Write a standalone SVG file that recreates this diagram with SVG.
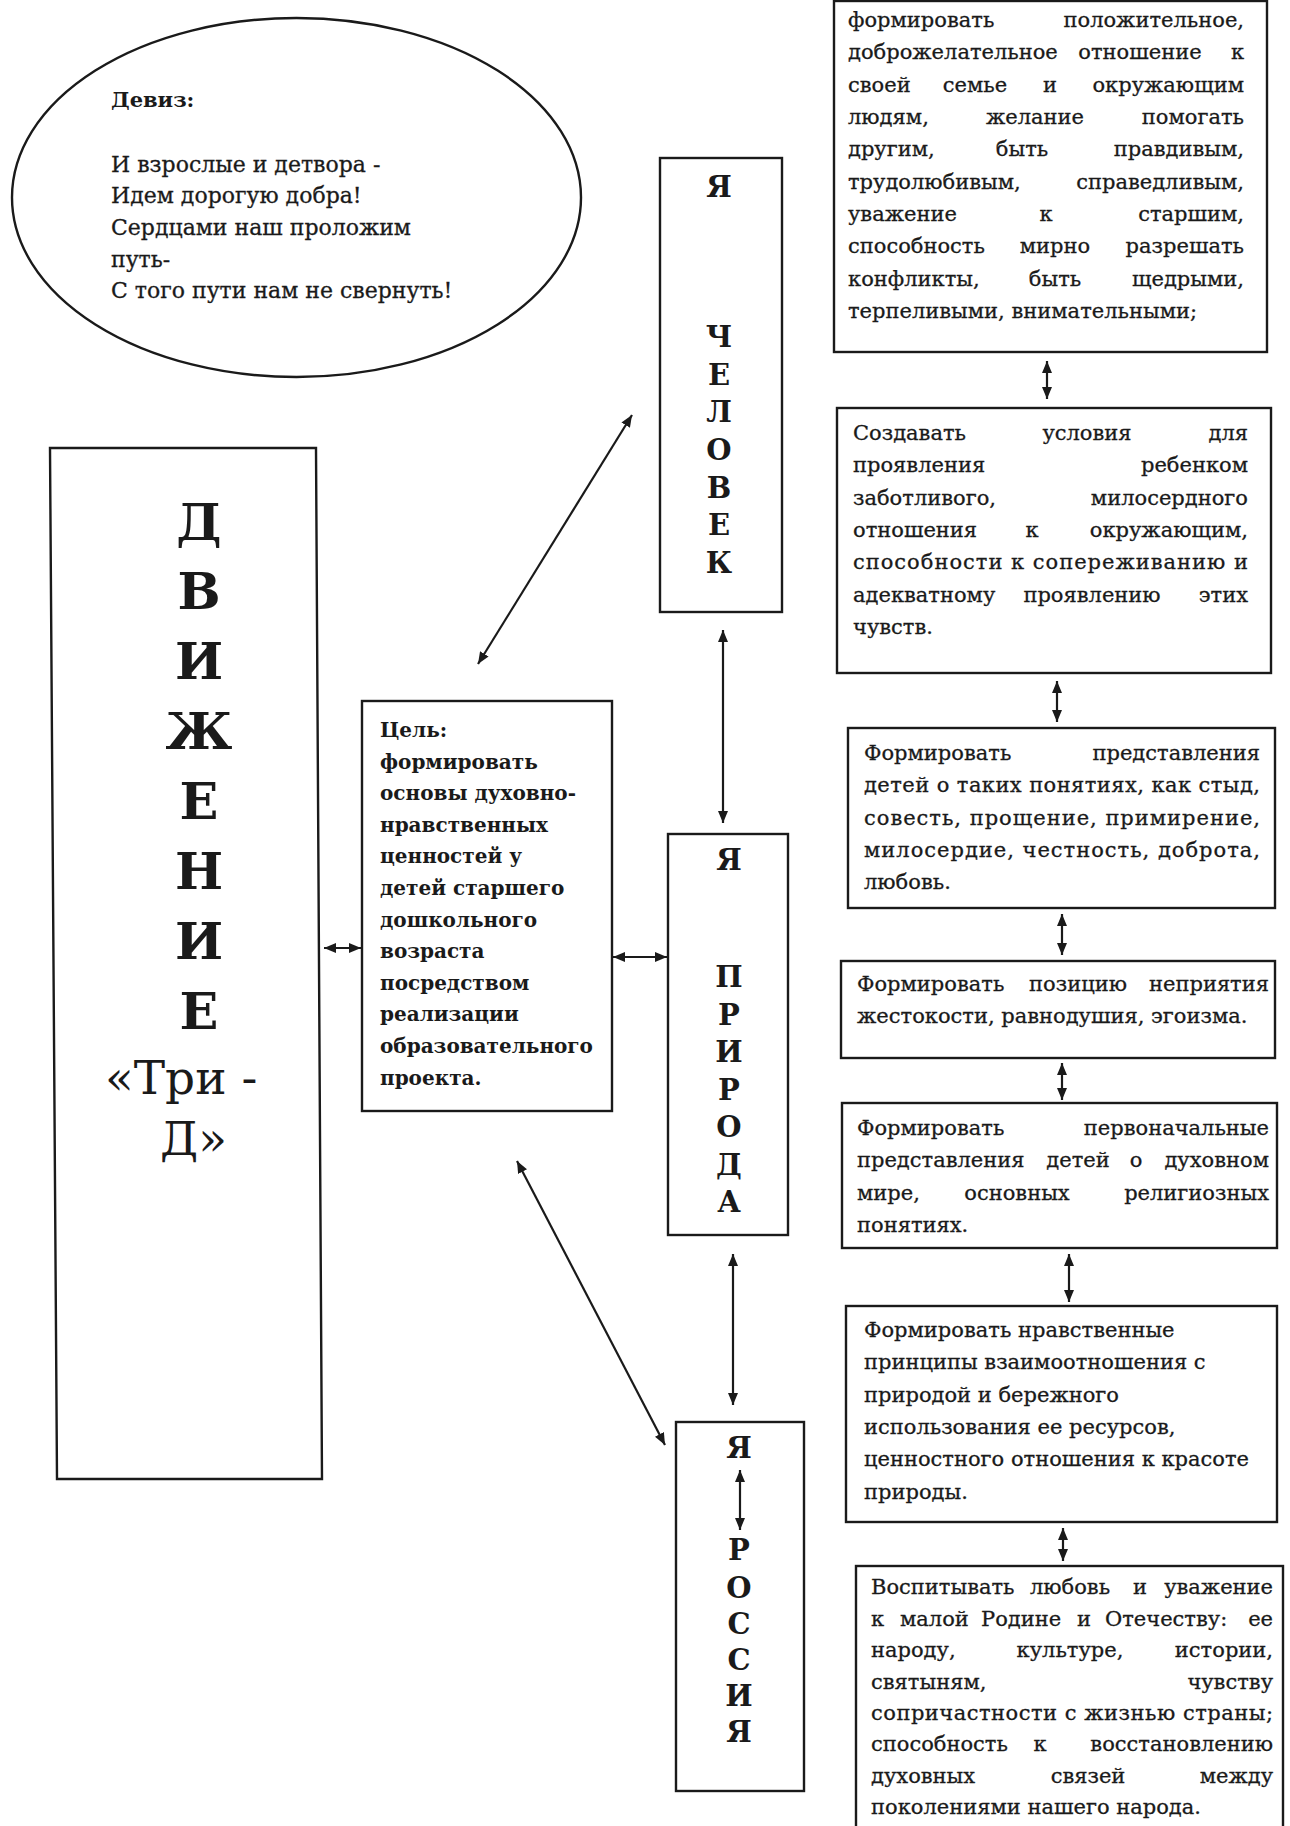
<svg xmlns="http://www.w3.org/2000/svg" width="1290" height="1826" viewBox="0 0 1290 1826">
<defs>
<marker id="ah" markerUnits="userSpaceOnUse" markerWidth="12" markerHeight="10" refX="12" refY="5" orient="auto-start-reverse">
<path d="M0,0 L12,5 L0,10 z" fill="#1a1a1a"/>
</marker>
<style>
.box{fill:none;stroke:#1a1a1a;stroke-width:2.4}
.t{font-family:"DejaVu Serif","Liberation Serif",serif;font-size:21px;fill:#1a1a1a;stroke:#1a1a1a;stroke-width:0.3}
.b{font-weight:bold;stroke-width:0}
.big{font-family:"DejaVu Serif","Liberation Serif",serif;font-size:51px;font-weight:bold;fill:#1a1a1a;text-anchor:middle}
.mid{font-family:"DejaVu Serif","Liberation Serif",serif;font-size:29px;font-weight:bold;fill:#1a1a1a;text-anchor:middle}
.e{text-anchor:end}
.m{text-anchor:middle}
#connectors line{stroke:#1a1a1a;stroke-width:2.2;marker-start:url(#ah);marker-end:url(#ah)}
</style>
</defs>
<rect width="1290" height="1826" fill="#ffffff"/>

<g id="motto">
<ellipse class="box" cx="296.5" cy="197.5" rx="284.5" ry="179.5"/>
<text class="t b" x="111" y="107">Девиз:</text>
<text class="t" style="font-size:22px" x="111" y="172">И взрослые и детвора -</text>
<text class="t" style="font-size:22px" x="111" y="203">Идем дорогую добра!</text>
<text class="t" style="font-size:22px" x="111" y="235">Сердцами наш проложим</text>
<text class="t" style="font-size:22px" x="111" y="267">путь-</text>
<text class="t" style="font-size:22px" x="111" y="298">С того пути нам не свернуть!</text>
</g>

<g id="movement">
<polygon class="box" points="50,448 316,448 322,1479 57,1479"/>
<text class="big" x="199" y="540">Д</text>
<text class="big" x="199" y="609">В</text>
<text class="big" x="199" y="679">И</text>
<text class="big" x="199" y="749">Ж</text>
<text class="big" x="199" y="819">Е</text>
<text class="big" x="199" y="889">Н</text>
<text class="big" x="199" y="959">И</text>
<text class="big" x="199" y="1029">Е</text>
<text class="t" style="font-size:47px;stroke-width:0" x="105" y="1094">«Три -</text>
<text class="t" style="font-size:47px;stroke-width:0" x="160" y="1155">Д»</text>
</g>

<g id="goal">
<rect class="box" x="362" y="701" width="250" height="410"/>
<text class="t b" style="font-size:20px" x="380" y="737">Цель:</text>
<text class="t b" style="font-size:20px" x="380" y="769">формировать</text>
<text class="t b" style="font-size:20px" x="380" y="800">основы духовно-</text>
<text class="t b" style="font-size:20px" x="380" y="832">нравственных</text>
<text class="t b" style="font-size:20px" x="380" y="863">ценностей у</text>
<text class="t b" style="font-size:20px" x="380" y="895">детей старшего</text>
<text class="t b" style="font-size:20px" x="380" y="927">дошкольного</text>
<text class="t b" style="font-size:20px" x="380" y="958">возраста</text>
<text class="t b" style="font-size:20px" x="380" y="990">посредством</text>
<text class="t b" style="font-size:20px" x="380" y="1021">реализации</text>
<text class="t b" style="font-size:20px" x="380" y="1053">образовательного</text>
<text class="t b" style="font-size:20px" x="380" y="1085">проекта.</text>
</g>

<g id="human">
<rect class="box" x="660" y="158" width="122" height="454"/>
<text class="mid" x="719" y="197">Я</text>
<text class="mid" x="719" y="347">Ч</text>
<text class="mid" x="719" y="385">Е</text>
<text class="mid" x="719" y="422">Л</text>
<text class="mid" x="719" y="460">О</text>
<text class="mid" x="719" y="498">В</text>
<text class="mid" x="719" y="535">Е</text>
<text class="mid" x="719" y="573">К</text>
</g>

<g id="nature">
<rect class="box" x="668" y="834" width="120" height="401"/>
<text class="mid" x="729" y="870">Я</text>
<text class="mid" x="729" y="987">П</text>
<text class="mid" x="729" y="1025">Р</text>
<text class="mid" x="729" y="1062">И</text>
<text class="mid" x="729" y="1100">Р</text>
<text class="mid" x="729" y="1137">О</text>
<text class="mid" x="729" y="1175">Д</text>
<text class="mid" x="729" y="1212">А</text>
</g>

<g id="russia">
<rect class="box" x="676" y="1422" width="128" height="369"/>
<text class="mid" x="739" y="1458">Я</text>
<text class="mid" x="739" y="1560">Р</text>
<text class="mid" x="739" y="1598">О</text>
<text class="mid" x="739" y="1634">С</text>
<text class="mid" x="739" y="1670">С</text>
<text class="mid" x="739" y="1706">И</text>
<text class="mid" x="739" y="1742">Я</text>
</g>

<g id="r1">
<rect class="box" x="834" y="1" width="433" height="351"/>
<text class="t" x="848" y="27">формировать</text><text class="t e" x="1244" y="27">положительное,</text>
<text class="t" x="848" y="59">доброжелательное</text><text class="t m" x="1140" y="59">отношение</text><text class="t e" x="1244" y="59">к</text>
<text class="t" x="848" y="92">своей</text><text class="t m" x="975" y="92">семье</text><text class="t m" x="1050" y="92">и</text><text class="t e" x="1244" y="92">окружающим</text>
<text class="t" x="848" y="124">людям,</text><text class="t m" x="1035" y="124">желание</text><text class="t e" x="1244" y="124">помогать</text>
<text class="t" x="848" y="156">другим,</text><text class="t m" x="1022" y="156">быть</text><text class="t e" x="1244" y="156">правдивым,</text>
<text class="t" x="848" y="189">трудолюбивым,</text><text class="t e" x="1244" y="189">справедливым,</text>
<text class="t" x="848" y="221">уважение</text><text class="t m" x="1046" y="221">к</text><text class="t e" x="1244" y="221">старшим,</text>
<text class="t" x="848" y="253">способность</text><text class="t m" x="1055" y="253">мирно</text><text class="t e" x="1244" y="253">разрешать</text>
<text class="t" x="848" y="286">конфликты,</text><text class="t m" x="1055" y="286">быть</text><text class="t e" x="1244" y="286">щедрыми,</text>
<text class="t" x="848" y="318">терпеливыми, внимательными;</text>
</g>

<g id="r2">
<rect class="box" x="837" y="408" width="434" height="265"/>
<text class="t" x="853" y="440">Создавать</text><text class="t m" x="1087" y="440">условия</text><text class="t e" x="1248" y="440">для</text>
<text class="t" x="853" y="472">проявления</text><text class="t e" x="1248" y="472">ребенком</text>
<text class="t" x="853" y="505">заботливого,</text><text class="t e" x="1248" y="505">милосердного</text>
<text class="t" x="853" y="537">отношения</text><text class="t m" x="1032" y="537">к</text><text class="t e" x="1248" y="537">окружающим,</text>
<text class="t" x="853" y="569" textLength="395" lengthAdjust="spacing">способности к сопереживанию и</text>
<text class="t" x="853" y="602">адекватному</text><text class="t m" x="1092" y="602">проявлению</text><text class="t e" x="1248" y="602">этих</text>
<text class="t" x="853" y="634">чувств.</text>
</g>

<g id="r3">
<rect class="box" x="848" y="728" width="427" height="180"/>
<text class="t" x="864" y="760">Формировать</text><text class="t e" x="1260" y="760">представления</text>
<text class="t" x="864" y="792" textLength="396" lengthAdjust="spacing">детей о таких понятиях, как стыд,</text>
<text class="t" x="864" y="825" textLength="396" lengthAdjust="spacing">совесть, прощение,  примирение,</text>
<text class="t" x="864" y="857" textLength="396" lengthAdjust="spacing">милосердие, честность, доброта,</text>
<text class="t" x="864" y="889">любовь.</text>
</g>

<g id="r4">
<rect class="box" x="841" y="961" width="434" height="97"/>
<text class="t" x="857" y="991">Формировать</text><text class="t m" x="1078" y="991">позицию</text><text class="t e" x="1269" y="991">неприятия</text>
<text class="t" x="857" y="1023">жестокости, равнодушия, эгоизма.</text>
</g>

<g id="r5">
<rect class="box" x="842" y="1103" width="435" height="145"/>
<text class="t" x="857" y="1135">Формировать</text><text class="t e" x="1269" y="1135">первоначальные</text>
<text class="t" x="857" y="1167">представления</text><text class="t m" x="1078" y="1167">детей</text><text class="t m" x="1136" y="1167">о</text><text class="t e" x="1269" y="1167">духовном</text>
<text class="t" x="857" y="1200">мире,</text><text class="t m" x="1017" y="1200">основных</text><text class="t e" x="1269" y="1200">религиозных</text>
<text class="t" x="857" y="1232">понятиях.</text>
</g>

<g id="r6">
<rect class="box" x="846" y="1306" width="431" height="216"/>
<text class="t" x="864" y="1337">Формировать нравственные</text>
<text class="t" x="864" y="1369">принципы взаимоотношения с</text>
<text class="t" x="864" y="1402">природой и бережного</text>
<text class="t" x="864" y="1434">использования ее ресурсов,</text>
<text class="t" x="864" y="1466">ценностного отношения к красоте</text>
<text class="t" x="864" y="1499">природы.</text>
</g>

<g id="r7">
<rect class="box" x="856" y="1566" width="427" height="270"/>
<text class="t" x="871" y="1594">Воспитывать</text><text class="t m" x="1070" y="1594">любовь</text><text class="t m" x="1140" y="1594">и</text><text class="t e" x="1273" y="1594">уважение</text>
<text class="t" x="871" y="1626">к</text><text class="t" x="900" y="1626">малой</text><text class="t" x="981" y="1626">Родине</text><text class="t" x="1077" y="1626">и</text><text class="t" x="1105" y="1626">Отечеству:</text><text class="t e" x="1273" y="1626">ее</text>
<text class="t" x="871" y="1657">народу,</text><text class="t m" x="1070" y="1657">культуре,</text><text class="t e" x="1273" y="1657">истории,</text>
<text class="t" x="871" y="1689">святыням,</text><text class="t e" x="1273" y="1689">чувству</text>
<text class="t" x="871" y="1720" textLength="402" lengthAdjust="spacing">сопричастности с жизнью страны;</text>
<text class="t" x="871" y="1751">способность</text><text class="t m" x="1040" y="1751">к</text><text class="t e" x="1273" y="1751">восстановлению</text>
<text class="t" x="871" y="1783">духовных</text><text class="t m" x="1088" y="1783">связей</text><text class="t e" x="1273" y="1783">между</text>
<text class="t" x="871" y="1814">поколениями нашего народа.</text>
</g>

<g id="connectors">
<line x1="324" y1="948" x2="361" y2="948"/>
<line x1="613" y1="957" x2="667" y2="957"/>
<line x1="478" y1="664" x2="632" y2="415"/>
<line x1="517" y1="1161" x2="665" y2="1445"/>
<line x1="723" y1="630" x2="723" y2="823"/>
<line x1="733" y1="1254" x2="733" y2="1405"/>
<line x1="740" y1="1470" x2="740" y2="1530"/>
<line x1="1047" y1="361" x2="1047" y2="399"/>
<line x1="1057" y1="681" x2="1057" y2="722"/>
<line x1="1062" y1="914" x2="1062" y2="955"/>
<line x1="1062" y1="1063" x2="1062" y2="1100"/>
<line x1="1069" y1="1254" x2="1069" y2="1302"/>
<line x1="1063" y1="1528" x2="1063" y2="1561"/>
</g>
</svg>
